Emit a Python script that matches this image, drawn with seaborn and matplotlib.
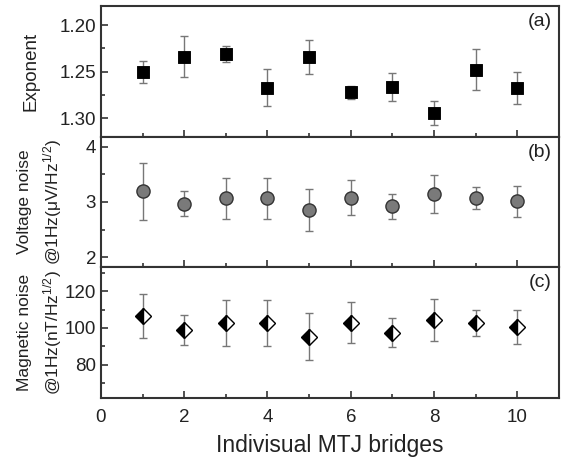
import seaborn as sns
import matplotlib.pyplot as plt
from matplotlib.ticker import MultipleLocator

bridges = [1, 2, 3, 4, 5, 6, 7, 8, 9, 10]

exponent = [1.250, 1.234, 1.231, 1.267, 1.234, 1.272, 1.266, 1.294, 1.248, 1.267]
exponent_err = [0.012, 0.022, 0.009, 0.020, 0.018, 0.007, 0.015, 0.0125, 0.022, 0.017]

voltage = [3.19, 2.97, 3.07, 3.07, 2.85, 3.08, 2.92, 3.14, 3.07, 3.01]
voltage_err = [0.51, 0.23, 0.37, 0.37, 0.38, 0.31, 0.22, 0.34, 0.20, 0.28]

magnetic = [106.6, 98.9, 102.5, 102.5, 95.3, 102.9, 97.5, 104.5, 102.7, 100.5]
magnetic_err = [12.0, 8.0, 12.6, 12.6, 13.0, 11.0, 7.7, 11.5, 7.0, 9.4]

sns.set_style("ticks")
plt.rcParams['font.family'] = ['Liberation Sans', 'DejaVu Sans']
plt.rcParams['mathtext.fontset'] = 'custom'
plt.rcParams['mathtext.rm'] = 'Liberation Sans'
plt.rcParams['mathtext.it'] = 'Liberation Sans'

text_col = '#222222'
err_col = '#777777'

fig, axes = plt.subplots(3, 1, figsize=(5.64, 4.59), dpi=100, sharex=True)
fig.subplots_adjust(left=0.179, right=0.991, top=0.987, bottom=0.133, hspace=0)
ax_a, ax_b, ax_c = axes

# (a) exponent
ax_a.errorbar(bridges, exponent, yerr=exponent_err, fmt='none', ecolor=err_col,
              elinewidth=1, capsize=3, capthick=1, zorder=2)
sns.scatterplot(x=bridges, y=exponent, marker='s', color='black', s=65,
                edgecolor='black', ax=ax_a, zorder=3)
ax_a.set_ylim(1.3194, 1.1796)
ax_a.yaxis.set_major_locator(MultipleLocator(0.05))
ax_a.yaxis.set_minor_locator(MultipleLocator(0.025))
ax_a.yaxis.set_major_formatter(plt.FormatStrFormatter('%.2f'))
ax_a.set_ylabel("Exponent", fontsize=13.5, color=text_col)
ax_a.yaxis.set_label_coords(-0.135, 0.5)

# (b) voltage noise
ax_b.errorbar(bridges, voltage, yerr=voltage_err, fmt='none', ecolor=err_col,
              elinewidth=1, capsize=3, capthick=1, zorder=2)
sns.scatterplot(x=bridges, y=voltage, marker='o', color='#7a7a7a', s=90,
                edgecolor='#333333', linewidth=1, ax=ax_b, zorder=3)
ax_b.set_ylim(1.82, 4.18)
ax_b.yaxis.set_major_locator(MultipleLocator(1))
ax_b.yaxis.set_minor_locator(MultipleLocator(0.5))
ax_b.set_ylabel("Voltage noise\n@1Hz($\\mu$V/Hz$^{1/2}$)", fontsize=12.5,
                color=text_col, linespacing=1.55)
ax_b.yaxis.set_label_coords(-0.08, 0.5)

# (c) magnetic noise
ax_c.errorbar(bridges, magnetic, yerr=magnetic_err, fmt='D', ecolor=err_col,
              elinewidth=1, capsize=3, capthick=1, markersize=8,
              markerfacecolor='black', markerfacecoloralt='white',
              markeredgecolor='black', markeredgewidth=1, fillstyle='left',
              zorder=3)
ax_c.set_ylim(61.8, 133.1)
ax_c.yaxis.set_major_locator(MultipleLocator(20))
ax_c.yaxis.set_minor_locator(MultipleLocator(10))
ax_c.set_ylabel("Magnetic noise\n@1Hz(nT/Hz$^{1/2}$)", fontsize=12.5,
                color=text_col, linespacing=1.55)
ax_c.yaxis.set_label_coords(-0.08, 0.5)

ax_c.set_xlim(0, 11)
ax_c.xaxis.set_major_locator(MultipleLocator(2))
ax_c.xaxis.set_minor_locator(MultipleLocator(1))
ax_c.set_xlabel("Indivisual MTJ bridges", fontsize=16.5, color=text_col,
                labelpad=6)

for ax, lab in zip(axes, ["(a)", "(b)", "(c)"]):
    for sp in ax.spines.values():
        sp.set_visible(True)
        sp.set_linewidth(1.5)
        sp.set_color('#333333')
    ax.tick_params(which='major', direction='in', length=5, width=1.2,
                   labelsize=13.5, colors='#333333', labelcolor=text_col)
    ax.tick_params(which='minor', direction='in', length=3, width=1.2,
                   colors='#333333')
    ax.text(0.985, 0.88, lab, transform=ax.transAxes, ha='right', va='center',
            fontsize=14, color=text_col)
ax_c.tick_params(axis='x', which='major', pad=8)

plt.savefig('out.png', dpi=100)
